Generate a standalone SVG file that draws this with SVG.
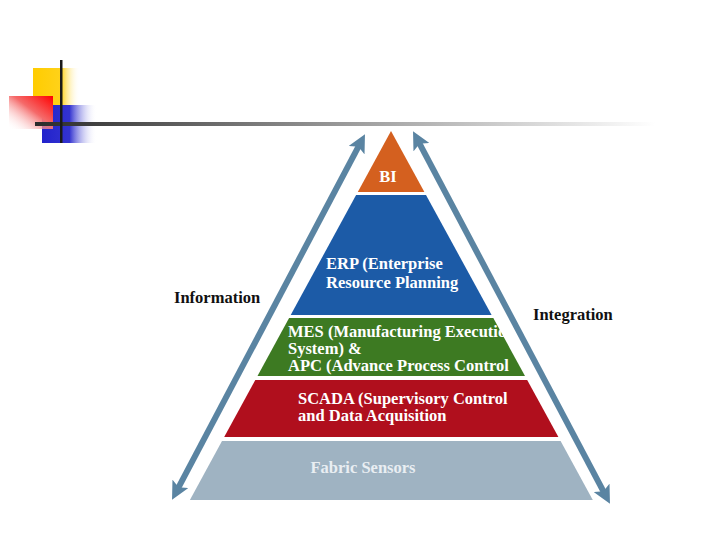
<svg xmlns="http://www.w3.org/2000/svg" width="720" height="540" viewBox="0 0 720 540">
  <defs>
    <linearGradient id="gYellow" x1="0" y1="0" x2="1" y2="0">
      <stop offset="0" stop-color="#ffcc00"/>
      <stop offset="0.6" stop-color="#ffd21a"/>
      <stop offset="1" stop-color="#ffffff" stop-opacity="0"/>
    </linearGradient>
    <linearGradient id="gRed" x1="1" y1="0" x2="0" y2="1">
      <stop offset="0" stop-color="#ff0000"/>
      <stop offset="0.45" stop-color="#f56a6a"/>
      <stop offset="1" stop-color="#ffffff" stop-opacity="0"/>
    </linearGradient>
    <linearGradient id="gBlue" x1="0" y1="0" x2="1" y2="0">
      <stop offset="0" stop-color="#2222cc"/>
      <stop offset="0.5" stop-color="#3333d0"/>
      <stop offset="1" stop-color="#ffffff" stop-opacity="0"/>
    </linearGradient>
    <linearGradient id="gRule" x1="0" y1="0" x2="1" y2="0">
      <stop offset="0" stop-color="#2b2b2b"/>
      <stop offset="0.5" stop-color="#9a9a9a"/>
      <stop offset="1" stop-color="#ffffff"/>
    </linearGradient>
    <marker id="ah" viewBox="0 -9 18 18" markerWidth="18" markerHeight="18" refX="8" refY="0" markerUnits="userSpaceOnUse" orient="auto-start-reverse">
      <path d="M0,-9 L18,0 L0,9 L4,0 z" fill="#5a84a2"/>
    </marker>
    <clipPath id="clipMes">
      <polygon points="289,318 497,318 529,376 257,376"/>
    </clipPath>
    <style>
      .lbl { font-family: "Liberation Serif", "Times New Roman", serif; font-weight: bold; font-size: 16.5px; }
      .in { fill: #ffffff; }
      .out { fill: #111111; }
      .arrow { stroke: #5a84a2; stroke-width: 6; fill: none; }
    </style>
  </defs>

  <rect width="720" height="540" fill="#ffffff"/>

  <g id="header">
    <rect x="33" y="68" width="47" height="37" fill="url(#gYellow)"/>
    <rect x="42" y="105" width="55" height="38" fill="url(#gBlue)"/>
    <rect x="9" y="96" width="44" height="33" fill="url(#gRed)"/>
    <rect x="35" y="122" width="620" height="4" fill="url(#gRule)"/>
    <rect x="60" y="60" width="2.5" height="83" fill="#1a1a1a"/>
  </g>

  <g id="connectors">
    <line class="arrow" x1="360.3" y1="143.1" x2="176.7" y2="490.9" marker-start="url(#ah)" marker-end="url(#ah)"/>
    <line class="arrow" x1="417.7" y1="140.1" x2="605.3" y2="494.9" marker-start="url(#ah)" marker-end="url(#ah)"/>
  </g>

  <g id="bi">
    <polygon points="391,131 424.4,192 357.8,192" fill="#d4601f"/>
    <text class="lbl in" x="388" y="182" text-anchor="middle">BI</text>
  </g>

  <g id="erp">
    <polygon points="356.1,195 426,195 491.6,315 290.7,315" fill="#1c5ba7"/>
    <text class="lbl in" x="326" y="269">ERP (Enterprise</text>
    <text class="lbl in" x="326" y="288">Resource Planning</text>
  </g>

  <g id="mes">
    <polygon points="289.1,318 493.3,318 525,376 257.5,376" fill="#3d7a22"/>
    <g clip-path="url(#clipMes)">
      <text class="lbl in" x="288" y="337">MES (Manufacturing Executio</text>
    </g>
    <text class="lbl in" x="288" y="354">System) &amp;</text>
    <text class="lbl in" x="288" y="371">APC (Advance Process Control</text>
  </g>

  <g id="scada">
    <polygon points="255.3,380 527.2,380 558.4,437 224.2,437" fill="#b00f1d"/>
    <text class="lbl in" x="298" y="404">SCADA (Supervisory Control</text>
    <text class="lbl in" x="298" y="421">and Data Acquisition</text>
  </g>

  <g id="fabric">
    <polygon points="222,441 560.6,441 592.8,500 189.9,500" fill="#9fb3c2"/>
    <text class="lbl" x="363" y="473" text-anchor="middle" fill="#e9eef2">Fabric Sensors</text>
  </g>

  <g id="information">
    <text class="lbl out" x="174" y="303">Information</text>
  </g>
  <g id="integration">
    <text class="lbl out" x="533" y="320">Integration</text>
  </g>
</svg>
